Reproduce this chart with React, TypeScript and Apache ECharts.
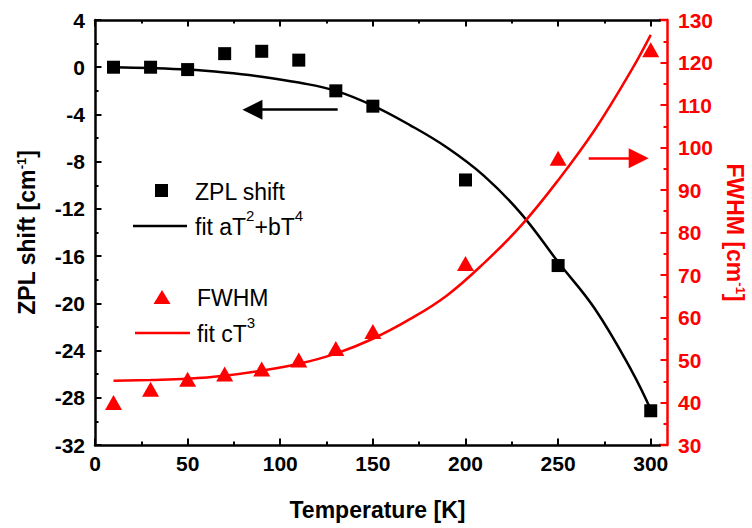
import React, { useEffect, useRef } from "react";
import * as echarts from "echarts";

// Measured points (temperature in K)
const temps = [10, 30, 50, 70, 90, 110, 130, 150, 200, 250, 300];
const zplShift = [0.0, 0.0, -0.2, 1.15, 1.35, 0.6, -2.0, -3.3, -9.55, -16.8, -29.1];
const fwhm = [40.0, 43.1, 45.5, 46.7, 47.9, 50.0, 52.7, 56.7, 72.7, 97.5, 123.0];

// Fitted curves sampled along temperature
const fitTemps = [10, 30, 50, 70, 90, 110, 130, 150, 170, 190, 210, 230, 250, 270, 290, 300];
const zplFit = [0.0, -0.07, -0.2, -0.45, -0.8, -1.3, -2.0, -3.25, -4.9, -6.8, -9.2, -12.4, -16.5, -20.5, -25.8, -29.0];
const fwhmFit = [45.1, 45.3, 45.6, 46.3, 47.5, 49.1, 51.5, 55.0, 59.6, 65.2, 72.8, 81.6, 92.3, 104.3, 118.5, 126.5];

// Axis ticks
const majorT = [0, 50, 100, 150, 200, 250, 300];
const minorT = [25, 75, 125, 175, 225, 275];

// Direction arrows: [from, to] in data coordinates
const shiftArrow = [[131, -3.6], [85, -3.6]];
const fwhmArrow = [[266.5, 97.5], [293.5, 97.5]];

const RED = "#ff0000";
const BLACK = "#000000";
const FONT = "'Liberation Sans', Arial, sans-serif";

const pair = (xs: number[], ys: number[]) => xs.map((x, i) => [x, ys[i]]);

const labelFont = { fontFamily: FONT, fontWeight: "bold" as const, fontSize: 21 };

function xAxisDef(position: "top" | "bottom", values: number[], major: boolean, withLine: boolean, withLabel: boolean) {
  return {
    type: "value",
    position,
    min: 0,
    max: 305,
    splitLine: { show: false },
    axisLine: { show: withLine, onZero: false, lineStyle: { color: BLACK, width: 2.5 } },
    axisTick: {
      show: true,
      inside: true,
      length: major ? 6.5 : 3.5,
      customValues: values,
      lineStyle: { color: BLACK, width: 2 },
    },
    axisLabel: withLabel
      ? { show: true, customValues: majorT, margin: 8, color: BLACK, ...labelFont }
      : { show: false },
  };
}

function arrow(color: string, from: number[], to: number[]) {
  return {
    silent: true,
    symbol: ["none", "triangle"],
    symbolSize: 20,
    label: { show: false },
    emphasis: { disabled: true },
    lineStyle: { color, width: 2.5, type: "solid" },
    itemStyle: { color },
    data: [[{ coord: from }, { coord: to }]],
  };
}

export default function App() {
  const ref = useRef<HTMLDivElement>(null);

  useEffect(() => {
    if (!ref.current) return;
    const chart = echarts.init(ref.current, null, { renderer: "svg" });

    const titleRich = {
      b: { fontFamily: FONT, fontWeight: "bold", fontSize: 23, verticalAlign: "bottom" },
      s: { fontFamily: FONT, fontWeight: "bold", fontSize: 13, verticalAlign: "top" },
    };
    const legendRich = (color: string) => ({
      n: { fontFamily: FONT, fontSize: 23, lineHeight: 30, fill: color, verticalAlign: "bottom" },
      s: { fontFamily: FONT, fontSize: 15, fill: color, verticalAlign: "top" },
    });

    const xName = {
      ...xAxisDef("bottom", majorT, true, true, true),
      name: "Temperature [K]",
      nameLocation: "middle",
      nameGap: 53,
      nameTextStyle: { fontFamily: FONT, fontWeight: "bold", fontSize: 23, color: BLACK },
    };

    chart.setOption({
      animation: false,
      backgroundColor: "#ffffff",
      grid: { left: 95, right: 92, top: 20, bottom: 83, containLabel: false, outerBoundsMode: "none" },
      xAxis: [
        xName,
        xAxisDef("bottom", minorT, false, false, false),
        xAxisDef("top", majorT, true, true, false),
        xAxisDef("top", minorT, false, false, false),
      ],
      yAxis: [
        {
          type: "value",
          position: "left",
          min: -32,
          max: 4,
          interval: 4,
          splitLine: { show: false },
          axisLine: { show: true, onZero: false, lineStyle: { color: BLACK, width: 2.5 } },
          axisTick: { show: true, inside: true, length: 6.5, lineStyle: { color: BLACK, width: 2 } },
          minorTick: { show: true, splitNumber: 2, length: 3.5, lineStyle: { color: BLACK, width: 2 } },
          axisLabel: { margin: 10, color: BLACK, ...labelFont },
          name: "{b|ZPL shift [cm}{s|-1}{b|]}",
          nameLocation: "middle",
          nameRotate: 90,
          nameGap: 57,
          nameTextStyle: { color: BLACK, rich: titleRich },
        },
        {
          type: "value",
          position: "right",
          offset: 7,
          min: 30,
          max: 130,
          interval: 10,
          splitLine: { show: false },
          axisLine: { show: true, onZero: false, lineStyle: { color: RED, width: 2.5 } },
          axisTick: { show: true, inside: true, length: 6.5, lineStyle: { color: RED, width: 2 } },
          minorTick: { show: true, splitNumber: 2, length: 3.5, lineStyle: { color: RED, width: 2 } },
          axisLabel: { margin: 11, color: RED, ...labelFont },
          name: "{b|FWHM [cm}{s|-1}{b|]}",
          nameLocation: "middle",
          nameRotate: -90,
          nameGap: 54,
          nameTextStyle: { color: RED, rich: titleRich },
        },
      ],
      series: [
        {
          name: "fit aT2+bT4",
          type: "line",
          xAxisIndex: 0,
          yAxisIndex: 0,
          data: pair(fitTemps, zplFit),
          smooth: 0.4,
          showSymbol: false,
          lineStyle: { color: BLACK, width: 2.5 },
          z: 2,
          markLine: arrow(BLACK, shiftArrow[0], shiftArrow[1]),
        },
        {
          name: "fit cT3",
          type: "line",
          xAxisIndex: 0,
          yAxisIndex: 1,
          data: pair(fitTemps, fwhmFit),
          smooth: 0.4,
          showSymbol: false,
          lineStyle: { color: RED, width: 2.5 },
          z: 3,
          markLine: arrow(RED, fwhmArrow[0], fwhmArrow[1]),
        },
        {
          name: "ZPL shift",
          type: "scatter",
          xAxisIndex: 0,
          yAxisIndex: 0,
          data: pair(temps, zplShift),
          symbol: "rect",
          symbolSize: 13,
          itemStyle: { color: BLACK, opacity: 1 },
          z: 4,
        },
        {
          name: "FWHM",
          type: "scatter",
          xAxisIndex: 0,
          yAxisIndex: 1,
          data: pair(temps, fwhm),
          symbol: "triangle",
          symbolSize: [17, 15],
          itemStyle: { color: RED, opacity: 1 },
          z: 4,
        },
      ],
      graphic: [
        // red tabs joining the frame to the offset right axis
        { type: "line", shape: { x1: 659, y1: 20, x2: 668, y2: 20 }, style: { stroke: RED, lineWidth: 2.5 } },
        { type: "line", shape: { x1: 659, y1: 445, x2: 668, y2: 445 }, style: { stroke: RED, lineWidth: 2.5 } },
        // legend
        { type: "rect", shape: { x: 155, y: 184, width: 13, height: 13 }, style: { fill: BLACK } },
        {
          type: "text", x: 195, y: 188,
          style: { text: "{n|ZPL shift}", rich: legendRich(BLACK), verticalAlign: "middle" },
        },
        { type: "line", shape: { x1: 133, y1: 226, x2: 187, y2: 226 }, style: { stroke: BLACK, lineWidth: 2.5 } },
        {
          type: "text", x: 195, y: 223,
          style: { text: "{n|fit aT}{s|2}{n|+bT}{s|4}", rich: legendRich(BLACK), verticalAlign: "middle" },
        },
        {
          type: "polygon",
          shape: { points: [[162, 290], [153.5, 304], [170.5, 304]] },
          style: { fill: RED },
        },
        {
          type: "text", x: 197, y: 294,
          style: { text: "{n|FWHM}", rich: legendRich(BLACK), verticalAlign: "middle" },
        },
        { type: "line", shape: { x1: 135, y1: 333, x2: 190, y2: 333 }, style: { stroke: RED, lineWidth: 2.5 } },
        {
          type: "text", x: 197, y: 330,
          style: { text: "{n|fit cT}{s|3}", rich: legendRich(BLACK), verticalAlign: "middle" },
        },
      ],
    });

    return () => chart.dispose();
  }, []);

  return <div ref={ref} style={{ width: 752, height: 528, position: "absolute", left: 0, top: 0 }} />;
}
